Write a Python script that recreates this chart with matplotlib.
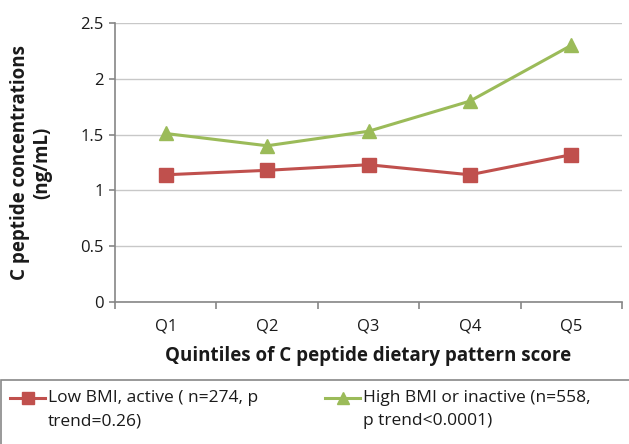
import matplotlib
matplotlib.use("Agg")
import matplotlib.pyplot as plt
from matplotlib.lines import Line2D
from matplotlib.patches import Rectangle

categories = ["Q1", "Q2", "Q3", "Q4", "Q5"]
low_bmi = [1.14, 1.18, 1.23, 1.14, 1.32]
high_bmi = [1.51, 1.40, 1.53, 1.80, 2.30]
yticks = [0, 0.5, 1, 1.5, 2, 2.5]
ytick_labels = ["0", "0.5", "1", "1.5", "2", "2.5"]
label_low = ["Low BMI, active ( n=274, p", "trend=0.26)"]
label_high = ["High BMI or inactive (n=558,", "p trend<0.0001)"]

RED = "#c0504d"
GREEN = "#9bbb59"
AXC = "#868686"
GRID = "#c8c8c8"
TXT = "#1a1a1a"

plt.rcParams['font.family'] = ['Open Sans', 'DejaVu Sans']

W, H = 629, 444
fig = plt.figure(figsize=(W / 100, H / 100), dpi=100)
ax = fig.add_axes([115 / W, 1 - 302 / H, (622 - 115) / W, (302 - 23) / H])

x = list(range(len(categories)))
ax.plot(x, low_bmi, color=RED, lw=2.2, marker="s", ms=9.5, mfc=RED, mec=RED, zorder=3)
ax.plot(x, high_bmi, color=GREEN, lw=2.2, marker="^", ms=10, mfc=GREEN, mec=GREEN, zorder=3)

ax.set_xlim(-0.5, len(categories) - 0.5)
ax.set_ylim(0, 2.5)
ax.set_yticks(yticks)
ax.set_yticklabels(ytick_labels, fontsize=12, color=TXT)
ax.set_xticks(x)
ax.set_xticklabels(categories, fontsize=12, color=TXT)
ax.tick_params(axis="x", length=0, pad=12)
ax.set_xticks([i - 0.5 for i in range(len(categories) + 1)], minor=True)
ax.tick_params(axis="x", which="minor", length=5, color=AXC, width=1.2, direction="out")
ax.tick_params(axis="y", length=4, color=AXC, width=1.2, pad=4)

ax.grid(axis="y", color=GRID, lw=1.0)
ax.set_axisbelow(True)
for s in ["top", "right"]:
    ax.spines[s].set_visible(False)
for s in ["left", "bottom"]:
    ax.spines[s].set_color(AXC)
    ax.spines[s].set_linewidth(1.2)

ax.set_ylabel("C peptide concentrations\n(ng/mL)", fontsize=13.5, fontweight="bold",
              color=TXT, linespacing=1.2, labelpad=20)
ax.set_xlabel("Quintiles of C peptide dietary pattern score", fontsize=13.5,
              fontweight="bold", color=TXT, labelpad=8)

# legend box
fig.patches.append(Rectangle((1 / W, -0.1), 1.2, 1 - 380 / H + 0.1, transform=fig.transFigure,
                             fill=False, edgecolor="#888888", lw=1.2))

def legend_entry(x0, y0, color, marker, lines):
    fig.lines.append(Line2D([x0 / W, (x0 + 35) / W], [1 - y0 / H] * 2, transform=fig.transFigure,
                            color=color, lw=2.2))
    fig.lines.append(Line2D([(x0 + 17.5) / W], [1 - y0 / H], transform=fig.transFigure,
                            color=color, marker=marker, ms=8.5, lw=0))
    for i, t in enumerate(lines):
        fig.text((x0 + 38) / W, 1 - (y0 + 23 * i) / H, t, fontsize=12.5, color=TXT,
                 va="center", ha="left")

legend_entry(10, 398, RED, "s", label_low)
legend_entry(325, 398, GREEN, "^", label_high)

fig.savefig("out.png", dpi=100)
